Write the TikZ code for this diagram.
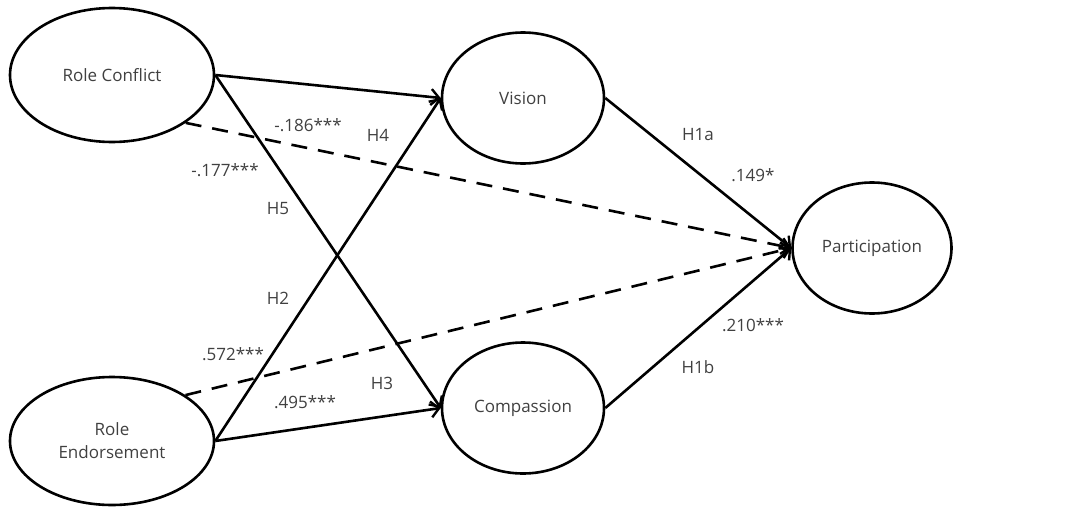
\documentclass[tikz,border=0pt]{standalone}
\usepackage{fontspec}
\setmainfont{Open Sans}
\usetikzlibrary{shapes.geometric,arrows.meta}
\definecolor{txt}{HTML}{404040}
\begin{document}
\begin{tikzpicture}[x=1pt,y=-1pt,
  latent/.style={ellipse,draw=black,line width=2.6pt,inner sep=0pt,
    font=\fontsize{17}{23}\selectfont,text=txt,align=center},
  lbl/.style={font=\fontsize{17}{20}\selectfont,text=txt,inner sep=0pt},
  path/.style={line width=2.6pt,-{Straight Barb[length=8pt,width=16pt,line width=2.4pt]}},
  dpath/.style={path,dash pattern=on 16pt off 11pt}]
\useasboundingbox (0,0) rectangle (1073,506);
\node[latent,minimum width=204pt,minimum height=134pt] (RC) at (112,75) {Role Conflict};
\node[latent,minimum width=204pt,minimum height=128pt] (RE) at (112,441) {Role\\Endorsement};
\node[latent,minimum width=162pt,minimum height=131pt] (V) at (523,98) {Vision};
\node[latent,minimum width=162pt,minimum height=131pt] (C) at (523,408) {Compassion};
\node[latent,minimum width=159pt,minimum height=131pt] (P) at (872,248) {Participation};
\draw[path] (RC.east) -- (V.west);
\draw[path] (RC.east) -- (C.west);
\draw[path] (RE.east) -- (V.west);
\draw[path] (RE.east) -- (C.west);
\draw[dpath] (RC.-33) -- (P.west);
\draw[dpath] (RE.32) -- (P.west);
\draw[path] (V.east) -- (P.west);
\draw[path] (C.east) -- (P.west);
\node[lbl] (l1) at (308,125) {-.186***};
\node[lbl] (l2) at (378,135) {H4};
\node[lbl] (l3) at (225,170) {-.177***};
\node[lbl] (l4) at (278,209) {H5};
\node[lbl] (l5) at (278,298) {H2};
\node[lbl] (l6) at (233,354) {.572***};
\node[lbl] (l7) at (382,383) {H3};
\node[lbl] (l8) at (305,402) {.495***};
\node[lbl] (l9) at (698,135) {H1a};
\node[lbl] (l10) at (753,175) {.149*};
\node[lbl] (l11) at (753,325) {.210***};
\node[lbl] (l12) at (698,367) {H1b};
\end{tikzpicture}
\end{document}
